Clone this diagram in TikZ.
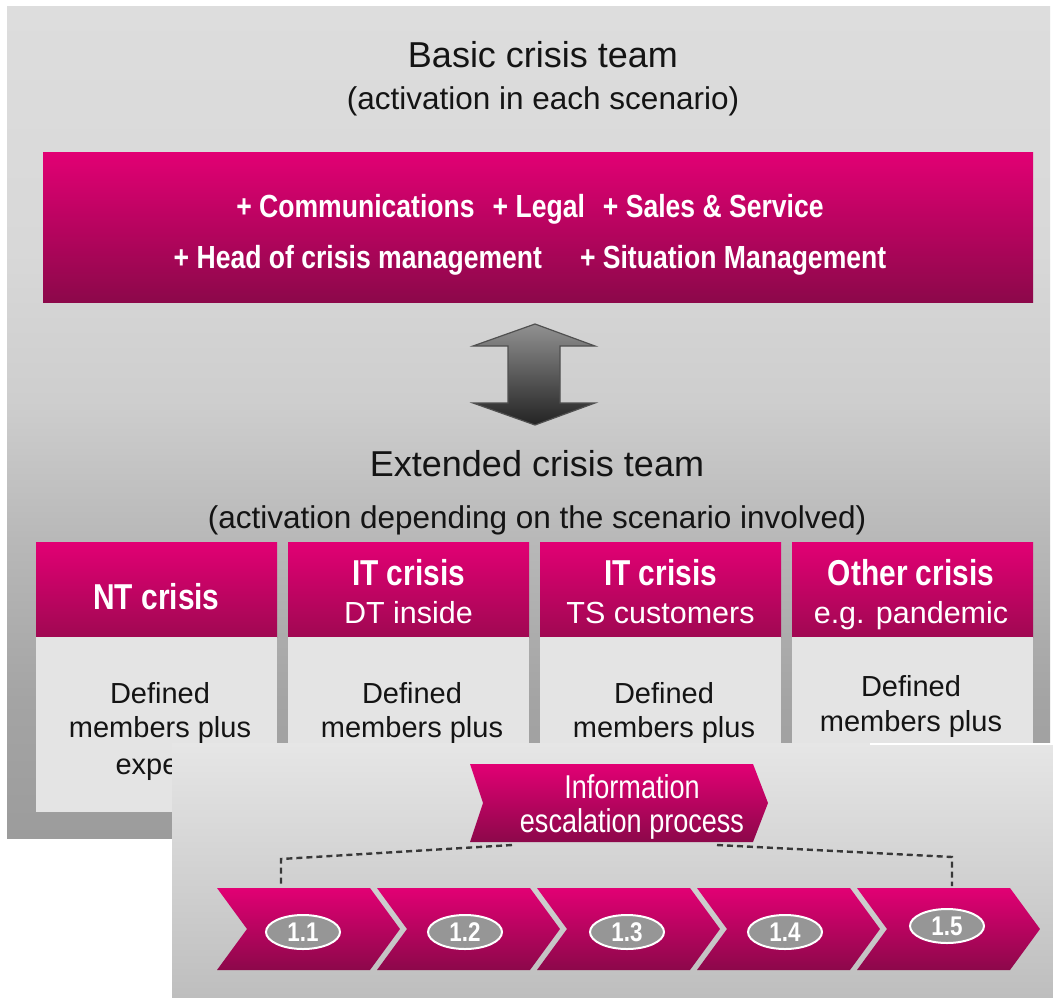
\documentclass[tikz,border=0pt]{standalone}
\usepackage{fontspec}
\setmainfont{Liberation Sans}
\newfontfamily\bcond[FakeStretch=0.83]{Liberation Sans}
\newfontfamily\rcond[FakeStretch=0.82]{Liberation Sans}
\usetikzlibrary{shapes.geometric}
\definecolor{mag}{RGB}{226,0,116}
\definecolor{magmid}{RGB}{208,0,108}
\definecolor{magdark}{RGB}{140,8,74}
\definecolor{colbody}{RGB}{228,228,228}
\definecolor{pg1}{RGB}{221,221,221}
\definecolor{pg2}{RGB}{216,216,216}
\definecolor{pg3}{RGB}{206,206,206}
\definecolor{pg4}{RGB}{184,184,184}
\definecolor{pg5}{RGB}{164,164,164}
\definecolor{pg6}{RGB}{156,156,156}
\definecolor{lp1}{RGB}{230,230,230}
\definecolor{lp2}{RGB}{212,212,212}
\definecolor{lp3}{RGB}{190,190,190}
\definecolor{ar1}{RGB}{145,145,145}
\definecolor{ar2}{RGB}{35,35,35}
\definecolor{ar3}{RGB}{80,80,80}
\definecolor{ovgrey}{RGB}{150,150,150}
\definecolor{txt}{RGB}{20,20,20}
\pgfdeclareverticalshading{panelshade}{100bp}{color(0bp)=(pg6); color(25bp)=(pg6); color(33.3bp)=(pg5); color(42.9bp)=(pg4); color(51.3bp)=(pg3); color(60.3bp)=(pg2); color(75bp)=(pg1); color(100bp)=(pg1)}
\begin{document}
\begin{tikzpicture}[x=1pt,y=-1pt,
  ttl/.style={font=\fontsize{36}{40}\selectfont, anchor=base, text=txt},
  sub/.style={font=\fontsize{31.5}{36}\selectfont, anchor=base, text=txt},
  wb/.style={font=\bcond\bfseries\fontsize{32}{36}\selectfont, anchor=base, text=white},
  hb/.style={font=\bcond\bfseries\fontsize{36}{40}\selectfont, anchor=base, text=white},
  hr/.style={font=\fontsize{30.5}{34}\selectfont, anchor=base, text=white},
  bt/.style={font=\fontsize{29}{34}\selectfont, anchor=base, text=txt},
  it/.style={font=\rcond\fontsize{33}{36}\selectfont, anchor=base, text=white},
  magbox/.style={rectangle, inner sep=0pt, draw=none, top color=mag, middle color=magmid, bottom color=magdark},
  colhead/.style={rectangle, inner sep=0pt, draw=none, top color=mag, bottom color={rgb,255:red,160;green,8;blue,82}, minimum width=241pt, minimum height=95pt},
  colbox/.style={rectangle, inner sep=0pt, draw=none, fill=colbody, minimum width=241pt, minimum height=175pt},
  oval/.style={ellipse, fill=ovgrey, draw=white, line width=2pt, minimum width=74pt, minimum height=34pt, inner sep=0pt, text=white, font=\bcond\bfseries\fontsize{27}{28}\selectfont},
  dashline/.style={draw=black!78, dash pattern=on 6pt off 4pt, line width=2.4pt}
]
\useasboundingbox (0,0) rectangle (1053,997);
\fill[white] (0,0) rectangle (1053,997);
% upper panel
\shade[shading=panelshade] (7,6) rectangle (1050,838);
\node[ttl] (t1) at (543,67) {Basic crisis team};
\node[sub] (t2) at (543,109) {(activation in each scenario)};
\node[magbox, minimum width=990pt, minimum height=150pt] (basic) at (538,227) {};
\node[wb] (l1) at (530,217) {+ Communications\hspace{18pt}+ Legal\hspace{18pt}+ Sales \& Service};
\node[wb] (l2) at (530,268) {+ Head of crisis management\hspace{38pt}+ Situation Management};
% double arrow
\shadedraw[top color=ar1, bottom color=ar2, draw=ar3, line width=1.2pt]
  (535,324) -- (595,346) -- (560,346) -- (560,403) -- (595,403) -- (535,425)
  -- (473,403) -- (508,403) -- (508,346) -- (473,346) -- cycle;
\node[ttl] (t3) at (537,476) {Extended crisis team};
\node[sub] (t4) at (537,528) {(activation depending on the scenario involved)};
% columns
\foreach \i/\cx in {1/156.5,2/408.5,3/660.5,4/912.5}{
  \node[colhead] (h\i) at (\cx,589.5) {};
  \node[colbox] (b\i) at (\cx,724.5) {};
}
\node[hb] (n1) at (156.5,609) {NT crisis};
\node[hb] (n2) at (408.5,585) {IT crisis};
\node[hr] (n2b) at (408.5,623) {DT inside};
\node[hb] (n3) at (660.5,585) {IT crisis};
\node[hr] (n3b) at (660.5,623) {TS customers};
\node[hb] (n4) at (911,585) {Other crisis};
\node[hr] (n4b) at (911,623) {e.g. pandemic};
\node[bt] (d1a) at (160,703) {Defined};
\node[bt] (d1b) at (160,737) {members plus};
\node[bt, anchor=base west] (d1c) at (112,774) {expe};
\node[bt] (d2a) at (412,703) {Defined};
\node[bt] (d2b) at (412,737) {members plus};
\node[bt] (d3a) at (664,703) {Defined};
\node[bt] (d3b) at (664,737) {members plus};
\node[bt] (d4a) at (911,696) {Defined};
\node[bt] (d4b) at (911,731) {members plus};
% lower panel
\shade[top color=lp1, middle color=lp2, bottom color=lp3] (172,743) rectangle (1053,997);
\draw[white, line width=1.5pt] (870,744) -- (1053,744);
% information escalation chevron
\shade[top color=mag, middle color=magmid, bottom color=magdark]
  (470,764) -- (753,764) -- (768,803) -- (753,842) -- (470,842) -- (483,803) -- cycle;
\node[it] (inf1) at (632,798) {Information};
\node[it] (inf2) at (632,832) {escalation process};
% process chevrons
\foreach \k in {0,...,4}{
  \pgfmathsetmacro{\L}{217+160*\k}
  \shade[top color=mag, middle color=magmid, bottom color=magdark]
    (\L,888) -- (\L+153,888) -- (\L+183,929) -- (\L+153,970) -- (\L,970) -- (\L+30,929) -- cycle;
}
\node[oval] (o1) at (303,932) {1.1};
\node[oval] (o2) at (465,932) {1.2};
\node[oval] (o3) at (627,932) {1.3};
\node[oval] (o4) at (785,932) {1.4};
\node[oval] (o5) at (947,926) {1.5};
% dashed connectors
\coordinate (infL) at (512,845);
\coordinate (infR) at (717,845);
\coordinate (kneeL) at (281,859);
\coordinate (kneeR) at (952,857);
\coordinate (s1top) at (281,886);
\coordinate (s5top) at (952,886);
\draw[dashline] (infL) -- (kneeL) -- (s1top);
\draw[dashline] (infR) -- (kneeR) -- (s5top);
\end{tikzpicture}
\end{document}
